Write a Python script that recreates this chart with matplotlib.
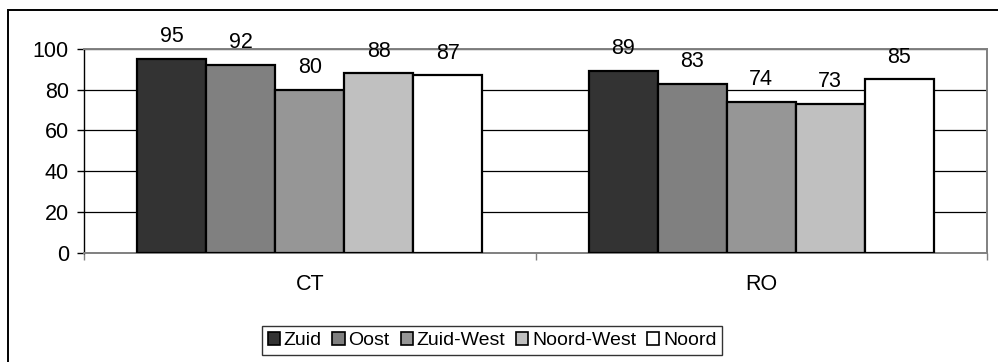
import matplotlib
matplotlib.use("Agg")
import matplotlib.pyplot as plt
import numpy as np
from matplotlib.patches import Rectangle

plt.rcParams["font.family"] = ["Liberation Sans", "DejaVu Sans"]

categories = ["CT", "RO"]
regions = ["Zuid", "Oost", "Zuid-West", "Noord-West", "Noord"]
values = {
    "Zuid": [95, 89],
    "Oost": [92, 83],
    "Zuid-West": [80, 74],
    "Noord-West": [88, 73],
    "Noord": [87, 85],
}
colors = ["#333333", "#808080", "#969696", "#c0c0c0", "#ffffff"]
FS = 15.5

fig = plt.figure(figsize=(9.98, 3.62), dpi=100)
ax = fig.add_axes([0.0842, 0.302, 0.9048, 0.563])

# outer chart frame
fig.patches.append(Rectangle((8 / 998, -0.05), 1.0, 1 - 10 / 362 + 0.05,
                             transform=fig.transFigure, fill=False,
                             edgecolor="black", linewidth=1.4))

x = np.arange(len(categories))
width = 0.1528
for i, region in enumerate(regions):
    pos = x + (i - 2) * width
    bars = ax.bar(pos, values[region], width, color=colors[i],
                  edgecolor="black", linewidth=1.6, label=region, zorder=3)
    for b, v in zip(bars, values[region]):
        ax.annotate(str(v), (b.get_x() + b.get_width() / 2, v),
                    xytext=(0, 8.5), textcoords="offset points",
                    ha="center", va="bottom", fontsize=FS)

ax.set_xlim(-0.5, 1.5)
ax.set_ylim(0, 100)
ax.set_yticks(range(0, 101, 20))
ax.yaxis.grid(True, color="black", linewidth=0.9, zorder=0)
ax.set_axisbelow(True)

ax.set_xticks([-0.5, 0.5, 1.5])
ax.set_xticklabels([])
ax.set_xticks(x, minor=True)
ax.set_xticklabels(categories, minor=True)
ax.tick_params(axis="x", which="major", length=5, width=1, color="#808080",
               direction="out")
ax.tick_params(axis="x", which="minor", length=0, pad=15, labelsize=FS)
ax.tick_params(axis="y", length=5, width=1, pad=6, labelsize=FS)

for side in ["top", "right", "bottom"]:
    ax.spines[side].set_color("#808080")
    ax.spines[side].set_linewidth(1.4)
ax.spines["left"].set_color("black")
ax.spines["left"].set_linewidth(1.0)

leg = fig.legend(loc="center", bbox_to_anchor=(0.493, 0.0594), ncol=5,
                 fontsize=14, frameon=True, fancybox=False,
                 handlelength=0.62, handleheight=0.62, handletextpad=0.2,
                 columnspacing=0.56, borderpad=0.3, borderaxespad=0)
leg.get_frame().set_edgecolor("black")
leg.get_frame().set_linewidth(1.0)
for h in leg.legend_handles:
    h.set_linewidth(1.2)

fig.savefig("out.png", dpi=100)
